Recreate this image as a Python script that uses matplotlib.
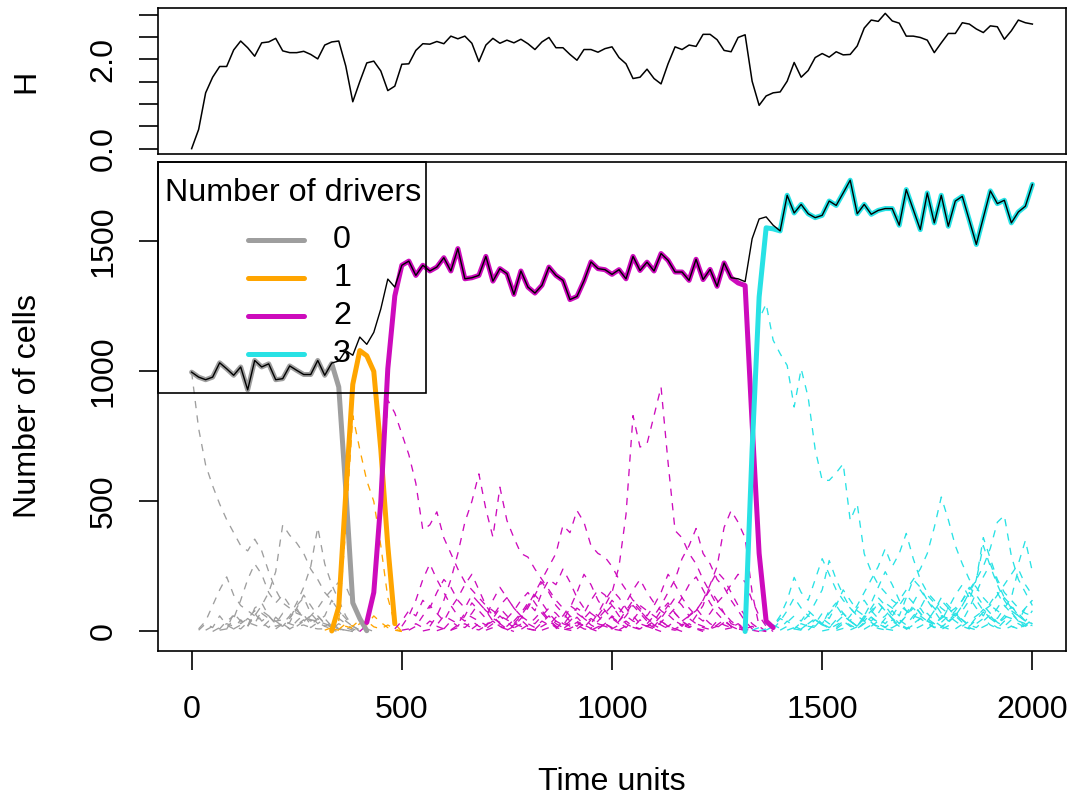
import numpy as np
import matplotlib
matplotlib.use("Agg")
import matplotlib.pyplot as plt
from matplotlib.patches import Rectangle

plt.rcParams['font.family'] = ['Liberation Sans', 'DejaVu Sans']

# ---------------- data ----------------
n_points = 121
time = np.linspace(0, 2000, n_points)

H = [0.00, 0.43, 1.25, 1.60, 1.84, 1.84, 2.21, 2.41, 2.26, 2.07,
     2.37, 2.39, 2.47, 2.19, 2.15, 2.15, 2.18, 2.11, 2.01, 2.32,
     2.39, 2.41, 1.85, 1.05, 1.50, 1.92, 1.96, 1.74, 1.30, 1.40,
     1.89, 1.90, 2.20, 2.35, 2.34, 2.40, 2.35, 2.52, 2.46, 2.52,
     2.36, 1.95, 2.32, 2.47, 2.36, 2.43, 2.37, 2.45, 2.35, 2.22,
     2.39, 2.49, 2.26, 2.26, 2.11, 1.98, 2.22, 2.22, 2.16, 2.24,
     2.28,
     2.04, 1.90, 1.57, 1.60, 1.78, 1.57, 1.45, 1.90, 2.28, 2.22,
     2.32, 2.29, 2.56, 2.56, 2.44, 2.20, 2.17, 2.49, 2.55, 1.51,
     0.97, 1.18, 1.25, 1.27, 1.51, 1.93, 1.60, 1.75, 2.04, 2.13,
     2.05, 2.17, 2.10, 2.11, 2.30, 2.70, 2.88, 2.85, 3.03, 2.86,
     2.81, 2.52, 2.52, 2.49, 2.43, 2.15, 2.37, 2.58, 2.58, 2.82,
     2.79, 2.68, 2.60, 2.75, 2.73, 2.45, 2.64, 2.88, 2.82, 2.79]

total_cells = [997, 978, 968, 978, 1033, 1010, 985, 1017, 929, 1042,
               1017, 1029, 968, 972, 1021, 1004, 988, 988, 1042, 985, 1032,
               1040, 1080, 1062, 1132, 1104, 1150, 1240, 1355, 1324,
               1408, 1424, 1369, 1408, 1386, 1401, 1437, 1386, 1472, 1356,
               1360, 1369, 1442, 1347, 1395, 1376, 1296, 1386, 1324, 1301,
               1331, 1401, 1369, 1350, 1276, 1288, 1348, 1421, 1395, 1391,
               1373, 1391, 1356, 1442, 1388, 1420, 1386, 1453, 1427, 1382,
               1382, 1350, 1431, 1353, 1392, 1327, 1417, 1360, 1356,
               1345,
               1510, 1586, 1594, 1562, 1540, 1677, 1609, 1642, 1606, 1591,
               1600, 1655, 1638, 1686, 1735, 1606, 1642, 1604, 1619, 1626,
               1626, 1562, 1699, 1622, 1545, 1686, 1571, 1677, 1558, 1655,
               1673, 1581, 1488, 1591, 1694, 1645, 1658, 1571, 1613, 1635, 1719]

driver_labels = ["0", "1", "2", "3"]
driver_colors = ["#9E9E9E", "#FFA500", "#CD0BBC", "#28E2E5"]

# summed cells per number of drivers: (first sample index, values)
drivers_0 = (0, [997, 978, 968, 978, 1033, 1010, 985, 1017, 929, 1042,
                 1017, 1029, 968, 972, 1021, 1004, 988, 988, 1042, 985,
                 1030, 940, 547, 110, 50, 3])
drivers_1 = (20, [2, 95, 530, 950, 1080, 1060, 1000, 700, 330, 30])
drivers_2 = (25, [35, 150, 500, 1010, 1290,
                  1408, 1424, 1369, 1408, 1386, 1401, 1437, 1386, 1472, 1356,
                  1360, 1369, 1442, 1347, 1395, 1376, 1296, 1386, 1324, 1301,
                  1331, 1401, 1369, 1350, 1276, 1288, 1348, 1421, 1395, 1391,
                  1373, 1391, 1356, 1442, 1388, 1420, 1386, 1453, 1427, 1382,
                  1382, 1350, 1431, 1353, 1392, 1327, 1417, 1360,
                  1340, 1330, 800, 300, 40, 15])
drivers_3 = (79, [0, 700, 1286, 1552, 1548,
                  1540, 1677, 1609, 1642, 1606, 1591, 1600, 1655, 1638, 1686,
                  1735, 1606, 1642, 1604, 1619, 1626, 1626, 1562, 1699, 1622,
                  1545, 1686, 1571, 1677, 1558, 1655, 1673, 1581, 1488, 1591,
                  1694, 1645, 1658, 1571, 1613, 1635, 1719])

# individual genotypes (dashed), grouped by number of drivers
genotypes_0 = [
    (0, [997, 780, 640, 560, 490, 430, 380, 330, 310, 355, 310, 230, 160, 110, 90,
         70, 60, 45, 40, 30, 20, 10, 5, 0]),
    (8, [20, 60, 100, 150, 230, 410, 370, 340, 300, 240, 200, 150, 120, 80, 50, 20, 5, 0]),
    (12, [10, 30, 60, 110, 170, 250, 400, 260, 180, 120, 60, 20, 5, 0]),
    (1, [10, 40, 100, 160, 210, 140, 100, 80, 60, 70, 50, 40, 45, 30, 20, 25, 15, 10, 10, 5, 0]),
    (5, [10, 50, 120, 200, 260, 220, 150, 110, 140, 100, 80, 60, 40, 60, 30, 20, 10, 5, 0]),
    (2, [5, 20, 10, 40, 60, 30, 50, 80, 40, 60, 30, 70, 50, 90, 40, 60, 30, 50, 20, 10, 5, 0]),
    (3, [0, 15, 30, 20, 10, 35, 25, 15, 40, 20, 30, 10, 25, 45, 15, 35, 20, 10, 30, 15, 5, 0]),
    (4, [5, 10, 70, 40, 20, 90, 110, 60, 30, 20, 50, 100, 130, 70, 40, 60, 120, 80, 40, 20, 0]),
    (15, [20, 40, 60, 90, 130, 160, 190, 175, 110, 40, 10, 0]),
    (1, [5, 30, 15, 60, 25, 10, 45, 20, 70, 35, 15, 55, 30, 10, 40, 65, 25, 50, 20, 35, 10, 0]),
    (6, [10, 25, 50, 30, 80, 60, 40, 20, 35, 90, 140, 100, 60, 30, 15, 50, 30, 10, 0]),
]
genotypes_1 = [
    (21, [40, 400, 830, 700, 580, 500, 330, 130, 30, 0]),
    (19, [5, 15, 8, 30, 20, 45, 25, 60, 35, 15, 5, 0]),
    (20, [10, 5, 20, 12, 30, 40, 18, 10, 25, 10, 0]),
]
genotypes_2 = [
    (24, [0, 25, 140, 480, 890, 840, 760, 680, 570, 390, 410, 460, 360, 300, 240, 190,
          160, 130, 100, 80, 60, 45, 30, 20, 10, 5, 0]),
    (34, [20, 60, 120, 200, 300, 420, 500, 606, 470, 363, 555, 427, 360, 300, 286, 240,
          200, 160, 120, 90, 60, 40, 20, 10, 0]),
    (46, [30, 60, 100, 150, 200, 250, 300, 408, 380, 465, 420, 330, 300, 286, 250, 200,
          160, 120, 100, 80, 60, 40, 20, 10, 0]),
    (58, [60, 100, 150, 250, 450, 830, 709, 722, 830, 940, 650, 388, 360, 300, 260, 200,
          150, 100, 70, 40, 20, 5, 0]),
    (70, [40, 60, 80, 120, 180, 250, 400, 465, 420, 360, 150, 20, 0]),
    (65, [30, 60, 100, 150, 200, 280, 330, 396, 300, 260, 200, 170, 120, 80, 40, 10, 0]),
    (29, [10, 40, 80, 60, 120, 90, 150, 200, 170, 120, 90, 140, 110, 80, 60, 100, 130,
          90, 60, 40, 30, 60, 90, 70, 40, 20, 10, 30, 50, 30, 20, 10, 5, 0]),
    (31, [5, 20, 60, 100, 70, 40, 90, 130, 180, 220, 160, 100, 60, 30, 50, 80, 120, 150,
          110, 70, 40, 20, 10, 5, 0]),
    (40, [10, 30, 20, 50, 90, 60, 40, 70, 110, 80, 150, 200, 180, 240, 190, 130, 90, 70,
          50, 80, 120, 90, 60, 40, 30, 20, 10, 0]),
    (50, [5, 15, 40, 25, 60, 90, 70, 120, 160, 140, 100, 70, 110, 160, 200, 150, 110, 80,
          60, 90, 130, 180, 210, 160, 110, 70, 40, 20, 10, 5, 0]),
    (30, [5, 10, 30, 15, 40, 25, 60, 45, 30, 70, 55, 40, 25, 50, 35, 20, 45, 60, 30, 15,
          40, 25, 55, 30, 20, 35, 15, 45, 30, 20, 10, 25, 40, 20, 10, 30, 15, 40, 20, 10,
          25, 15, 30, 20, 10, 40, 25, 15, 30, 10, 20, 5, 0]),
    (33, [2, 8, 20, 10, 5, 15, 30, 12, 6, 22, 40, 18, 8, 14, 28, 10, 5, 20, 35, 15, 8, 12,
          25, 10, 5, 18, 30, 12, 6, 22, 16, 8, 20, 40, 25, 10, 5, 15, 30, 12, 6, 10, 20, 8,
          14, 25, 10, 5, 0]),
    (58, [10, 30, 60, 40, 80, 120, 90, 60, 100, 150, 220, 180, 130, 90, 60, 40, 70, 110,
          140, 180, 220, 190, 120, 60, 20, 0]),
    (35, [3, 12, 6, 25, 15, 40, 20, 10, 30, 60, 35, 15, 8, 25, 50, 80, 45, 20, 10, 30, 55,
          25, 12, 40, 70, 100, 60, 30, 15, 45, 20, 10, 35, 65, 40, 20, 50, 30, 15, 8, 25,
          45, 20, 10, 5, 0]),
    (45, [5, 20, 50, 90, 140, 110, 70, 40, 60, 100, 80, 50, 30, 70, 120, 160, 130, 90, 60,
          30, 20, 40, 80, 110, 70, 40, 20, 60, 100, 180, 230, 200, 150, 100, 60, 30, 10, 0]),
    (36, [10, 40, 20, 60, 110, 80, 50, 120, 170, 130, 90, 60, 100, 140, 190, 150, 100, 70,
          40, 20, 50, 80, 60, 30, 15, 40, 70, 110, 80, 50, 30, 60, 100, 70, 40, 20, 10, 0]),
    (42, [5, 15, 30, 10, 25, 45, 20, 8, 35, 60, 30, 15, 40, 70, 50, 25, 10, 30, 55, 35, 15,
          45, 80, 50, 25, 10, 20, 40, 25, 60, 90, 55, 30, 15, 35, 20, 8, 0]),
    (52, [10, 40, 90, 150, 220, 180, 120, 80, 50, 30, 60, 100, 70, 40, 20, 50, 90, 130, 100,
          60, 80, 120, 160, 120, 70, 30, 20, 10, 0]),
    (30, [20, 60, 120, 200, 260, 200, 150, 100, 60, 40, 70, 110, 80, 40, 20, 10, 0]),
]
genotypes_3 = [
    (79, [0, 600, 1200, 1260, 1120, 1068, 1023, 863, 1010, 900, 700, 581, 581, 610,
          645, 427, 491, 299, 230, 180, 150, 120, 100, 80, 60, 50, 40, 30, 20, 10, 0]),
    (97, [20, 40, 60, 90, 120, 160, 200, 240, 300, 400, 517, 430, 330, 260, 200, 170, 130,
          100, 80, 60, 50, 40, 30, 20]),
    (105, [10, 30, 50, 70, 90, 120, 160, 200, 250, 320, 420, 446, 290, 200, 150, 100]),
    (110, [20, 40, 60, 80, 100, 140, 180, 220, 260, 350, 230]),
    (82, [5, 20, 60, 120, 208, 150, 120, 200, 280, 220, 160, 120, 90, 60, 40, 30, 20, 10, 5, 0]),
    (92, [10, 30, 60, 100, 150, 200, 250, 319, 250, 300, 377, 280, 200, 150, 120, 90, 70,
          60, 80, 120, 200, 361, 280, 200, 150, 120, 90, 70, 60]),
    (80, [5, 15, 30, 20, 50, 35, 60, 40, 80, 55, 30, 70, 100, 60, 40, 90, 120, 80, 50, 30,
          60, 100, 140, 110, 70, 40, 80, 120, 90, 60, 100, 150, 120, 80, 50, 90, 130, 100,
          60, 40, 80]),
    (81, [2, 10, 25, 12, 40, 20, 8, 30, 50, 25, 15, 45, 70, 40, 20, 60, 35, 15, 50, 80, 45,
          25, 60, 90, 50, 30, 15, 40, 70, 45, 20, 55, 85, 60, 30, 50, 75, 40, 20, 35]),
    (84, [5, 20, 10, 35, 60, 45, 25, 80, 110, 70, 40, 20, 50, 90, 130, 100, 60, 30, 70, 110,
          160, 120, 80, 40, 90, 140, 180, 130, 90, 60, 110, 150, 100, 70, 40, 90, 120]),
    (86, [10, 5, 20, 15, 30, 10, 25, 40, 20, 10, 35, 55, 30, 15, 45, 25, 10, 30, 50, 70, 40,
          20, 35, 60, 45, 25, 15, 40, 65, 35, 20, 45, 30, 15, 25]),
    (88, [5, 30, 70, 50, 100, 160, 120, 80, 60, 40, 70, 110, 90, 60, 130, 200, 170, 120, 90,
          60, 50, 80, 120, 170, 140, 100, 70, 50, 90, 130, 240, 180, 140]),
    (90, [2, 8, 4, 12, 6, 18, 9, 25, 12, 6, 15, 30, 14, 7, 20, 35, 16, 8, 22, 10, 28, 14, 6,
          18, 32, 15, 8, 20, 12, 25, 40]),
    (83, [10, 40, 80, 130, 90, 60, 110, 160, 273, 200, 140, 90, 60, 40, 70, 110, 80, 50, 30,
          60, 90, 60, 40, 80, 130, 100, 70, 40, 90, 150, 210, 260, 190, 130, 90, 60, 40, 30]),
    (85, [5, 15, 30, 20, 45, 30, 15, 35, 60, 40, 20, 50, 80, 110, 80, 50, 30, 60, 100, 70,
          40, 25, 55, 90, 60, 35, 20, 45, 75, 50, 30, 60, 95, 70, 40, 30]),
    (87, [10, 30, 20, 50, 30, 15, 40, 25, 10, 30, 55, 35, 15, 40, 20, 8, 25, 50, 30, 15, 35,
          60, 40, 20, 10, 30, 50, 25, 12, 40, 20, 10, 25, 45]),
    (95, [20, 60, 110, 170, 230, 180, 120, 80, 50, 90, 140, 110, 70, 40, 60, 100, 150, 200,
          330, 250, 180, 120, 80, 60, 90, 120]),
]

driver_totals = [drivers_0, drivers_1, drivers_2, drivers_3]
genotype_groups = [genotypes_0, genotypes_1, genotypes_2, genotypes_3]


def expand(start, values):
    y = np.full(n_points, np.nan)
    vals = np.asarray(values, dtype=float)[: n_points - start]
    y[start:start + len(vals)] = vals
    return y


# ---------------- figure ----------------
FS = 23.2
W, Hpx = 1075, 798
fig = plt.figure(figsize=(W / 100, Hpx / 100), dpi=100)

L, R = 158, 1066
ax_top = fig.add_axes([L / W, 1 - 154 / Hpx, (R - L) / W, (154 - 8) / Hpx])
ax = fig.add_axes([L / W, 1 - 651 / Hpx, (R - L) / W, (651 - 162) / Hpx])

for a in (ax_top, ax):
    for s in a.spines.values():
        s.set_linewidth(1.2)
    a.tick_params(length=13.7, width=1.2, labelsize=FS, direction='out')

# top panel: diversity
ax_top.plot(time, H, color='black', lw=1.1)
ax_top.set_xlim(-80, 2080)
ax_top.set_ylim(-0.12, 3.15)
ax_top.set_xticks([])
ax_top.set_yticks(np.arange(0, 3.01, 0.5))
ax_top.set_yticklabels(["0.0", "", "", "", "2.0", "", ""])
ax_top.tick_params(axis='y', pad=14.5, labelrotation=90)
plt.setp(ax_top.get_yticklabels(), va='center')
ax_top.set_ylabel("H", fontsize=FS)
ax_top.yaxis.set_label_coords(-0.128, 0.5)

# bottom panel
dash = (0, (5.5, 5.5))
for group, col in zip(genotype_groups, driver_colors):
    for start, vals in group:
        ax.plot(time, expand(start, vals), color=col, lw=0.95, linestyle=dash, zorder=2)

for (start, vals), col in zip(driver_totals, driver_colors):
    ax.plot(time, expand(start, vals), color=col, lw=3.6,
            solid_capstyle='round', solid_joinstyle='round', zorder=3)

ax.plot(time, total_cells, color='black', lw=1.0, zorder=4)

ax.set_xlim(-80, 2080)
ax.set_ylim(-75, 1805)
ax.set_xticks([0, 500, 1000, 1500, 2000])
ax.set_yticks([0, 500, 1000, 1500])
ax.tick_params(axis='x', pad=18.0)
ax.tick_params(axis='y', pad=14.5, labelrotation=90)
plt.setp(ax.get_yticklabels(), va='center')
ax.set_xlabel("Time units", fontsize=FS)
ax.xaxis.set_label_coords(0.5, -0.237)
ax.set_ylabel("Number of cells", fontsize=FS)
ax.yaxis.set_label_coords(-0.127, 0.5)

# legend (transparent box with black frame, R style)
box_right = (426 - L) / (R - L)
box_bottom = (651 - 392.5) / 489
ax.add_patch(Rectangle((0, box_bottom), box_right, 1 - box_bottom, transform=ax.transAxes,
                       fill=False, edgecolor='black', lw=1.2, zorder=6, clip_on=False))
ax.text((165 - L) / (R - L), (651 - 201) / 489, "Number of drivers", transform=ax.transAxes,
        ha='left', va='baseline', fontsize=FS, zorder=6)
row_px = [239.5, 277.5, 316.0, 354.0]
for lab, col, ypx in zip(driver_labels, driver_colors, row_px):
    yf = (651 - ypx) / 489
    ax.plot([(247.5 - L) / (R - L), (304.0 - L) / (R - L)], [yf, yf], transform=ax.transAxes,
            color=col, lw=3.6, solid_capstyle='round', zorder=6, clip_on=False)
    ax.text((333 - L) / (R - L), yf, lab, transform=ax.transAxes, ha='left', va='center',
            fontsize=FS, zorder=6)

fig.savefig("out.png", dpi=100)
